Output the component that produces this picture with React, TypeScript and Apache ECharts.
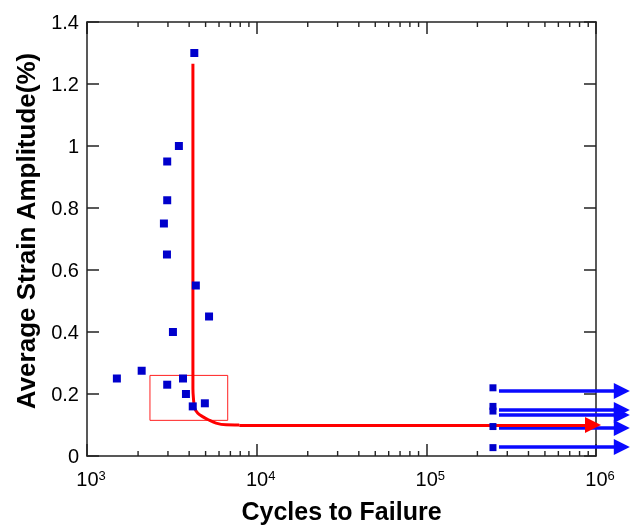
import React, { useEffect, useRef } from "react";
import * as echarts from "echarts";

// Fatigue test results: [cycles to failure, average strain amplitude (%)]
const failurePoints: [number, number][] = [
  [1500, 0.25],
  [2100, 0.275],
  [2970, 0.23],
  [3680, 0.25],
  [3830, 0.2],
  [4200, 0.16],
  [4950, 0.17],
  [3210, 0.4],
  [5240, 0.45],
  [4380, 0.55],
  [2960, 0.65],
  [2840, 0.75],
  [2970, 0.825],
  [2970, 0.95],
  [3480, 1.0],
  [4290, 1.3],
];

// Run-outs (specimens that did not fail)
const runoutCycles = 247000;
const runoutStrains = [0.22, 0.16, 0.145, 0.095, 0.027];

// Run-out arrows: start / end cycles and strain level of each arrow
const runoutArrowStart = 268000;
const runoutArrowEnd = 1420000;
const runoutArrowStrains = [0.21, 0.148, 0.132, 0.09, 0.029];

// Fitted life curve
const curvePoints: [number, number][] = [
  [4210, 1.265],
  [4210, 0.218],
  [4240, 0.186],
  [4310, 0.154],
  [4500, 0.138],
  [4800, 0.127],
  [5190, 0.117],
  [5760, 0.106],
  [6600, 0.1005],
  [7900, 0.1],
];
const curveArrowEnd: [number, number] = [960000, 0.1];

// Highlighted region
const boxCorners: [[number, number], [number, number]] = [
  [2350, 0.26],
  [6750, 0.115],
];

// Minor ticks of the logarithmic cycles axis
const minorTickValues: number[] = [];
for (const decade of [1000, 10000, 100000]) {
  for (const m of [2, 3, 4, 5, 6, 7, 8, 9]) minorTickValues.push(m * decade);
}

const FONT = "'Liberation Sans', Arial, Helvetica, sans-serif";

const axisLine = () => ({
  show: true,
  onZero: false,
  lineStyle: { color: "#222", width: 1.5 },
});
const majorTick = () => ({
  show: true,
  inside: true,
  length: 12,
  lineStyle: { color: "#222", width: 1.5 },
});

export default function App() {
  const ref = useRef<HTMLDivElement>(null);

  useEffect(() => {
    if (!ref.current) return;
    const chart = echarts.init(ref.current, null, { renderer: "svg" });

    chart.setOption({
      animation: false,
      grid: { left: 87, right: 34, top: 22, bottom: 70 },
      xAxis: [
        {
          type: "log",
          logBase: 10,
          min: 1000,
          max: 1000000,
          name: "Cycles to Failure",
          nameLocation: "middle",
          nameGap: 42,
          nameTextStyle: {
            fontFamily: FONT,
            fontWeight: "bold",
            fontSize: 25,
            color: "#000",
          },
          axisLine: axisLine(),
          axisTick: majorTick(),
          splitLine: { show: false },
          axisLabel: {
            margin: 13,
            formatter: (v: number) =>
              `{b|10}{s|${Math.round(Math.log10(v))}}`,
            rich: {
              b: {
                fontFamily: FONT,
                fontSize: 20,
                color: "#000",
                padding: [0, 0, 0, 8],
              },
              s: {
                fontFamily: FONT,
                fontSize: 13,
                color: "#000",
                verticalAlign: "top",
                lineHeight: 13,
              },
            },
          },
        },
        {
          type: "log",
          logBase: 10,
          min: 1000,
          max: 1000000,
          position: "top",
          axisLine: axisLine(),
          axisTick: majorTick(),
          axisLabel: { show: false },
          splitLine: { show: false },
        },
      ],
      yAxis: [
        {
          type: "value",
          min: 0,
          max: 1.4,
          interval: 0.2,
          name: "Average Strain Amplitude(%)",
          nameLocation: "middle",
          nameGap: 48,
          nameTextStyle: {
            fontFamily: FONT,
            fontWeight: "bold",
            fontSize: 26,
            color: "#000",
            padding: [0, 0, 0, 16],
          },
          axisLine: axisLine(),
          axisTick: majorTick(),
          splitLine: { show: false },
          axisLabel: {
            margin: 8,
            fontFamily: FONT,
            fontSize: 20,
            color: "#000",
          },
        },
        {
          type: "value",
          min: 0,
          max: 1.4,
          interval: 0.2,
          position: "right",
          axisLine: axisLine(),
          axisTick: majorTick(),
          axisLabel: { show: false },
          splitLine: { show: false },
        },
      ],
      series: [
        {
          type: "custom",
          name: "minorTicks",
          coordinateSystem: "cartesian2d",
          silent: true,
          data: minorTickValues.map((v) => [v, 0]),
          renderItem: (_params: any, api: any) => {
            const v = api.value(0);
            const bottom = api.coord([v, 0]);
            const top = api.coord([v, 1.4]);
            const style = { stroke: "#222", lineWidth: 1.4 };
            return {
              type: "group",
              children: [
                {
                  type: "line",
                  shape: { x1: bottom[0], y1: bottom[1], x2: bottom[0], y2: bottom[1] - 5 },
                  style,
                },
                {
                  type: "line",
                  shape: { x1: top[0], y1: top[1], x2: top[0], y2: top[1] + 5 },
                  style,
                },
              ],
            };
          },
        },
        {
          type: "line",
          name: "curve",
          data: curvePoints,
          smooth: 0.3,
          showSymbol: false,
          lineStyle: { color: "#ff0000", width: 3 },
          z: 3,
          markArea: {
            silent: true,
            itemStyle: {
              color: "rgba(0,0,0,0)",
              borderColor: "#ff2020",
              borderWidth: 1,
            },
            data: [[{ coord: boxCorners[0] }, { coord: boxCorners[1] }]],
          },
        },
        {
          type: "lines",
          name: "curveArrow",
          coordinateSystem: "cartesian2d",
          clip: false,
          symbol: ["none", "triangle"],
          symbolSize: [9, 16],
          lineStyle: { color: "#ff0000", width: 3, opacity: 1 },
          data: [{ coords: [curvePoints[curvePoints.length - 1], curveArrowEnd] }],
          z: 3,
        },
        {
          type: "lines",
          name: "runoutArrows",
          coordinateSystem: "cartesian2d",
          clip: false,
          symbol: ["none", "triangle"],
          symbolSize: [9, 16],
          lineStyle: { color: "#0a0aff", width: 3.5, opacity: 1 },
          data: runoutArrowStrains.map((s) => ({
            coords: [
              [runoutArrowStart, s],
              [runoutArrowEnd, s],
            ],
          })),
          z: 2,
        },
        {
          type: "scatter",
          name: "failures",
          symbol: "rect",
          symbolSize: 8,
          itemStyle: { color: "#0000cc", opacity: 1 },
          data: failurePoints,
          z: 4,
        },
        {
          type: "scatter",
          name: "runouts",
          symbol: "rect",
          symbolSize: 7,
          itemStyle: { color: "#0000cc", opacity: 1 },
          data: runoutStrains.map((s) => [runoutCycles, s]),
          z: 4,
        },
      ],
    });

    return () => chart.dispose();
  }, []);

  return (
    <div
      ref={ref}
      style={{ position: "fixed", left: 0, top: 0, width: 630, height: 528 }}
    />
  );
}
